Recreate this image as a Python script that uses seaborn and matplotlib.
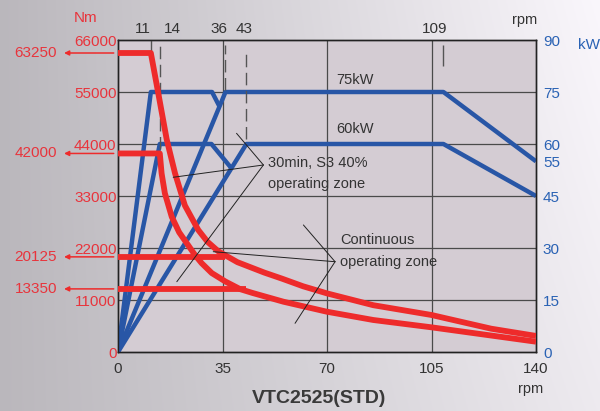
import numpy as np
import pandas as pd
import matplotlib
matplotlib.use("Agg")
import matplotlib.pyplot as plt
import seaborn as sns

# axis ticks
rpm_ticks = [0, 35, 70, 105, 140]
rpm_marks = [11, 14, 36, 43, 109]
nm_ticks = [0, 11000, 22000, 33000, 44000, 55000, 66000]
kw_ticks = [0, 15, 30, 45, 55, 60, 75, 90]
nm_marks = [63250, 42000, 20125, 13350]

# torque curves (Nm)
s3_75_rpm = [0, 11, 13.5, 16.3, 19.1, 22.4, 26.9, 30, 33.6, 40, 49, 55, 62, 70, 85.5, 105, 110,
             125, 140]
s3_75_nm = [63250, 63250, 54700, 45000, 37800, 31000, 25800, 23300, 21300, 19000, 16800, 15500,
            13900, 12400, 9900, 7830, 7100, 4930, 3400]
cont_75_rpm = [0, 36]
cont_75_nm = [20125, 20125]
s3_60_rpm = [0, 14, 14.6, 15.7, 18, 20.5, 23.6, 25.8, 28, 31.4, 36, 40.9, 45, 55.4, 69.9, 85.5,
             105, 140]
s3_60_nm = [42000, 42000, 37800, 33570, 28600, 25300, 22500, 20500, 18800, 16700, 14900, 13300,
            12500, 10640, 8530, 6770, 5220, 2180]
cont_60_rpm = [0, 43]
cont_60_nm = [13350, 13350]

# power curves (kW)
p_s3_75_rpm = [0, 11, 31.5, 34]
p_s3_75_kw = [0, 75, 75, 70.8]
p_cont_75_rpm = [0, 36, 109, 140]
p_cont_75_kw = [0, 75, 75, 55]
p_s3_60_rpm = [0, 14, 31.3, 38]
p_s3_60_kw = [0, 60, 60, 53]
p_cont_60_rpm = [0, 43, 109, 140]
p_cont_60_kw = [0, 60, 60, 45]

RED = "#ee2b2b"
RED_TXT = "#e8343c"
BLUE = "#2856a6"
BLUE_TXT = "#2a62b4"
DARK = "#333333"

sns.set_style("white")
plt.rcParams["font.family"] = ["Liberation Sans", "DejaVu Sans"]

fig = plt.figure(figsize=(6, 4.11), dpi=100)

# gradient background
bg = fig.add_axes([0, 0, 1, 1], zorder=-10)
gx = np.linspace(0, 1, 300)
gy = np.linspace(0, 1, 200)
GX, GY = np.meshgrid(gx, gy)
v = 0.73 + 0.20 * GX + 0.05 * GX * (1 - GY)
img = np.dstack([v, v - 0.012, v + 0.008])
bg.imshow(np.clip(img, 0, 1), aspect="auto", extent=[0, 1, 0, 1], origin="upper")
bg.axis("off")

ax = fig.add_axes([118 / 600, 59 / 411, 418 / 600, 312 / 411])
ax.set_facecolor("#d4ccd3")
ax2 = ax.twinx()
ax2.patch.set_visible(False)

# kW axis on the right (primary)
ax.set_xlim(0, 140)
ax.set_ylim(0, 90)
ax2.set_ylim(0, 66000)

for k in [15, 30, 45, 60, 75]:
    ax.axhline(k, color="#4a4a4a", lw=0.9, zorder=1)
for r in [35, 70, 105]:
    ax.axvline(r, color="#4a4a4a", lw=0.9, zorder=1)

def draw(axis, xs, ys, color, lw, z):
    df = pd.DataFrame({"rpm": xs, "val": ys})
    sns.lineplot(data=df, x="rpm", y="val", ax=axis, sort=False, estimator=None,
                 color=color, lw=lw, zorder=z, solid_capstyle="butt", solid_joinstyle="round")

for xs, ys in [(p_s3_75_rpm, p_s3_75_kw), (p_cont_75_rpm, p_cont_75_kw),
               (p_s3_60_rpm, p_s3_60_kw), (p_cont_60_rpm, p_cont_60_kw)]:
    draw(ax, xs, ys, BLUE, 3.2, 3)

for xs, ys in [(s3_75_rpm, s3_75_nm), (cont_75_rpm, cont_75_nm),
               (s3_60_rpm, s3_60_nm), (cont_60_rpm, cont_60_nm)]:
    draw(ax2, xs, ys, RED, 4.2, 4)

# marker lines at the corner speeds
ax2.vlines(11, 62300, 66000, color="#555555", lw=1.0)
ax2.vlines(14, 43000, 65200, color="#555555", lw=1.0, linestyles=(0, (9, 4)))
ax2.vlines(36, 55500, 65000, color="#555555", lw=1.0, linestyles=(0, (9, 4)))
ax2.vlines(43, 45000, 64000, color="#555555", lw=1.0, linestyles=(0, (9, 4)))
ax2.vlines(109, 60500, 65000, color="#555555", lw=1.0)

# annotation leaders
apex1 = (48.7, 39560)
for end in [(39.7, 46260), (18.5, 36960), (19.7, 14870)]:
    ax2.plot([apex1[0], end[0]], [apex1[1], end[1]], color="#222222", lw=0.7, zorder=5)
apex2 = (72.7, 19100)
for end in [(62.1, 26870), (31.9, 21220), (59.3, 6070)]:
    ax2.plot([apex2[0], end[0]], [apex2[1], end[1]], color="#222222", lw=0.7, zorder=5)

ax2.text(50.2, 39980, "30min, S3 40%", fontsize=10.5, color=DARK, va="center", zorder=6)
ax2.text(50.2, 35500, "operating zone", fontsize=10.5, color=DARK, va="center", zorder=6)
ax2.text(74.4, 23690, "Continuous", fontsize=10.5, color=DARK, va="center", zorder=6)
ax2.text(74.4, 19040, "operating zone", fontsize=10.5, color=DARK, va="center", zorder=6)
ax2.text(73, 57600, "75kW", fontsize=10.5, color=DARK, va="center", zorder=6)
ax2.text(73, 47200, "60kW", fontsize=10.5, color=DARK, va="center", zorder=6)

# ticks
ax.set_xticks(rpm_ticks)
ax.set_xticklabels([str(t) for t in rpm_ticks], fontsize=11, color=DARK)
ax.tick_params(axis="x", length=0, pad=7)
ax.yaxis.tick_right()
ax.set_yticks(kw_ticks)
ax.set_yticklabels([str(t) for t in kw_ticks], fontsize=11, color=BLUE_TXT)
ax.tick_params(axis="y", length=0, pad=5)
ax2.yaxis.tick_left()
ax2.set_yticks(nm_ticks)
ax2.set_yticklabels([str(t) for t in nm_ticks], fontsize=11, color=RED_TXT)
ax2.tick_params(axis="y", length=0, pad=1)
ax.set_xlabel("")
ax.set_ylabel("")
ax2.set_xlabel("")
ax2.set_ylabel("")

for a in (ax, ax2):
    for s in a.spines.values():
        s.set_color("#222222")
        s.set_linewidth(1.0)

# top speed labels
label_x = [8.4, 18.1, 33.8, 42.2, 106.0]
for lx, m in zip(label_x, rpm_marks):
    ax2.text(lx, 68300, str(m), fontsize=11, color=DARK, ha="center", va="center", clip_on=False)

# torque marks with arrows on the left
for m in nm_marks:
    ax2.annotate("", xy=(-19.0, m), xytext=(-0.5, m),
                 arrowprops=dict(arrowstyle="-|>", color=RED, lw=1.1, mutation_scale=7),
                 annotation_clip=False)
    ax2.text(-27.5, m, str(m), fontsize=11, color=RED_TXT, ha="center", va="center", clip_on=False)

fig.text(86 / 600, 1 - 18 / 411, "Nm", fontsize=11, color=RED_TXT, ha="center", va="center")
fig.text(525 / 600, 1 - 20 / 411, "rpm", fontsize=10.5, color=DARK, ha="center", va="center")
fig.text(589 / 600, 1 - 45 / 411, "kW", fontsize=11, color=BLUE_TXT, ha="center", va="center")
fig.text(531 / 600, 1 - 389 / 411, "rpm", fontsize=10.5, color=DARK, ha="center", va="center")
fig.text(319 / 600, 1 - 398 / 411, "VTC2525(STD)", fontsize=14, fontweight="bold",
         color="#3a3a3a", ha="center", va="center")

fig.savefig("out.png", dpi=100)
